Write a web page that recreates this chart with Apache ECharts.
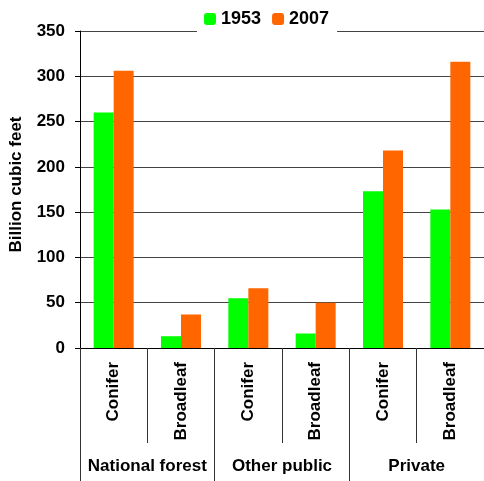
<!DOCTYPE html>
<html><head><meta charset="utf-8">
<script src="https://cdn.jsdelivr.net/npm/echarts@6/dist/echarts.min.js"></script>
<style>html,body{margin:0;padding:0;background:#fff}#c{width:484px;height:481px}</style>
</head><body><div id="c"></div>
<script>
const categories = ['Conifer','Broadleaf','Conifer','Broadleaf','Conifer','Broadleaf'];
const groups = ['National forest','Other public','Private'];
const values1953 = [260, 13, 55, 16, 173, 153];
const values2007 = [306, 37, 66, 50, 218, 316];
const yTicks = {min: 0, max: 350, interval: 50};
const FONT = '"Liberation Sans", Arial, sans-serif';

const chart = echarts.init(document.getElementById('c'), null, {renderer: 'canvas'});
chart.setOption({
  animation: false,
  backgroundColor: '#fff',
  textStyle: {fontFamily: FONT},
  grid: {left: 80, right: -4, top: 31, bottom: 133, containLabel: false},
  legend: {
    data: ['1953', '2007'],
    top: 5, left: 197,
    backgroundColor: '#fff',
    padding: [5, 8, 6, 7],
    itemWidth: 12, itemHeight: 12, itemGap: 11,
    textStyle: {fontFamily: FONT, fontWeight: 'bold', fontSize: 18, color: '#000'},
    z: 10
  },
  xAxis: [
    {
      type: 'category', data: categories, position: 'bottom',
      axisLine: {show: true, lineStyle: {color: '#000', width: 1}},
      axisTick: {show: true, interval: 0, length: 95, lineStyle: {color: '#333'}},
      axisLabel: {interval: 0, rotate: 90, margin: 14, fontFamily: FONT, fontWeight: 'bold', fontSize: 17, color: '#000'},
      splitLine: {show: false}
    },
    {
      type: 'category', data: groups, position: 'bottom',
      axisLine: {show: false},
      axisTick: {show: true, interval: 0, length: 133, lineStyle: {color: '#333'}},
      axisLabel: {interval: 0, margin: 110, fontFamily: FONT, fontWeight: 'bold', fontSize: 17, color: '#000'},
      splitLine: {show: false}
    }
  ],
  yAxis: {
    type: 'value', min: yTicks.min, max: yTicks.max, interval: yTicks.interval,
    name: 'Billion cubic feet', nameLocation: 'middle', nameGap: 55,
    nameTextStyle: {fontFamily: FONT, fontWeight: 'bold', fontSize: 17, color: '#000', padding: [0, 0, 0, 10]},
    axisLine: {show: true, lineStyle: {color: '#000', width: 1}},
    axisTick: {show: true, inside: false, length: 5, lineStyle: {color: '#000'}},
    axisLabel: {margin: 15, fontFamily: FONT, fontWeight: 'bold', fontSize: 17, color: '#000'},
    splitLine: {show: true, lineStyle: {color: '#444', width: 1}}
  },
  series: [
    {name: '1953', type: 'bar', xAxisIndex: 0, data: values1953, barWidth: 20, barGap: '0%', itemStyle: {color: '#00FF00'}},
    {name: '2007', type: 'bar', xAxisIndex: 0, data: values2007, barWidth: 20, barGap: '0%', itemStyle: {color: '#FF6600'}}
  ]
});
</script></body></html>
